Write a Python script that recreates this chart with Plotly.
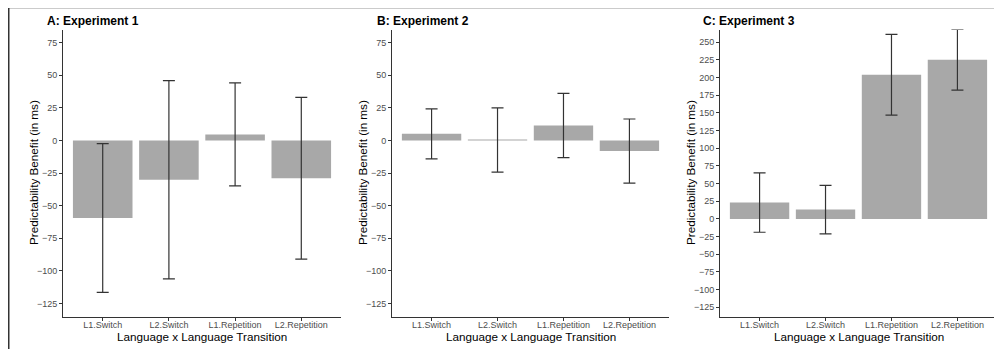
import plotly.graph_objects as go

# The page body has an 8px margin, so the figure is drawn 8px in and down.
OFF = 8
W, H = 1002 - OFF, 349 - OFF

categories = ["L1.Switch", "L2.Switch", "L1.Repetition", "L2.Repetition"]

exp1_mean = [-59.5, -30.2, 4.6, -29.0]
exp1_err = [57.0, 76.0, 39.5, 62.0]

exp2_mean = [5.0, 0.25, 11.4, -8.2]
exp2_err = [19.2, 24.6, 24.6, 24.6]

exp3_mean = [23.2, 13.2, 204.0, 225.3]
exp3_err = [42.0, 34.4, 57.2, 43.0]

titles = ["A: Experiment 1", "B: Experiment 2", "C: Experiment 3"]
y_title = "Predictability Benefit (in ms)"
x_title = "Language x Language Transition"

yticks_ab = list(range(-125, 76, 25))
yticks_c = list(range(-125, 251, 25))

FONT = "Liberation Sans, Arial, sans-serif"
BAR = "#a8a8a8"
DARK = "#333333"


def px(v):
    return (v - OFF) / W


def py(v):
    return 1 - (v - OFF) / H


# panel pixel geometry (window coordinates)
x_px = [(63, 341), (392, 669), (720, 997)]
y_top, y_bot = 29.5, 316.5
y_ranges = [[-135, 85], [-135, 85], [-138, 268]]
tick_sets = [yticks_ab, yticks_ab, yticks_c]
title_x = [45, 375, 701]
ytitle_x = [33, 362, 690]

fig = go.Figure()
data = [(exp1_mean, exp1_err), (exp2_mean, exp2_err), (exp3_mean, exp3_err)]

layout = dict(
    width=W, height=H,
    margin=dict(l=0, r=0, t=0, b=0),
    paper_bgcolor="white", plot_bgcolor="white",
    showlegend=False,
    bargap=0.1,
    font=dict(family=FONT, color="black"),
)

annotations = []
shapes = []
for i, (m, e) in enumerate(data):
    xa = "x" if i == 0 else f"x{i+1}"
    ya = "y" if i == 0 else f"y{i+1}"
    fig.add_trace(go.Bar(
        x=categories, y=m,
        xaxis=xa, yaxis=ya,
        marker=dict(color=BAR, line=dict(width=0)),
        error_y=dict(type="data", array=e, visible=True,
                     color=DARK, thickness=1.2, width=6),
    ))
    xd = [px(x_px[i][0]), px(x_px[i][1])]
    yd = [py(y_bot), py(y_top)]
    kx = "xaxis" if i == 0 else f"xaxis{i+1}"
    ky = "yaxis" if i == 0 else f"yaxis{i+1}"
    layout[kx] = dict(
        domain=xd, anchor=ya, range=[-0.6, 3.6],
        showline=True, linecolor=DARK, linewidth=1,
        ticks="outside", ticklen=3, tickcolor=DARK, tickwidth=1,
        ticklabelstandoff=-3,
        tickfont=dict(family=FONT, size=9, color="#4d4d4d"),
        showgrid=False, zeroline=False, fixedrange=True,
    )
    layout[ky] = dict(
        domain=yd, anchor=xa, range=y_ranges[i],
        tickmode="array", tickvals=tick_sets[i],
        showline=True, linecolor=DARK, linewidth=1,
        ticks="outside", ticklen=3, tickcolor=DARK, tickwidth=1,
        tickfont=dict(family=FONT, size=9, color="#4d4d4d"),
        showgrid=False, zeroline=False, fixedrange=True,
    )
    annotations.append(dict(
        text=f"<b>{titles[i]}</b>", xref="paper", yref="paper",
        x=px(title_x[i]), y=py(21), xanchor="left", yanchor="middle",
        showarrow=False, font=dict(family=FONT, size=12, color="black"),
    ))
    annotations.append(dict(
        text=y_title, xref="paper", yref="paper", textangle=-90,
        x=px(ytitle_x[i]), y=py((y_top + y_bot) / 2),
        xanchor="center", yanchor="middle", showarrow=False,
        font=dict(family=FONT, size=11.7, color="black"),
    ))
    annotations.append(dict(
        text=x_title, xref="paper", yref="paper",
        x=px((x_px[i][0] + x_px[i][1]) / 2), y=py(336),
        xanchor="center", yanchor="middle", showarrow=False,
        font=dict(family=FONT, size=11.7, color="black"),
    ))

# outer frame (top and left edges)
shapes.append(dict(type="line", xref="paper", yref="paper",
                   x0=0, x1=1, y0=py(7.5), y1=py(7.5),
                   line=dict(color=DARK, width=1.5)))
shapes.append(dict(type="line", xref="paper", yref="paper",
                   x0=px(8.75), x1=px(8.75), y0=0, y1=py(7.5),
                   line=dict(color=DARK, width=1.5)))

layout["annotations"] = annotations
layout["shapes"] = shapes
fig.update_layout(**layout)
fig.write_html("out.html")
